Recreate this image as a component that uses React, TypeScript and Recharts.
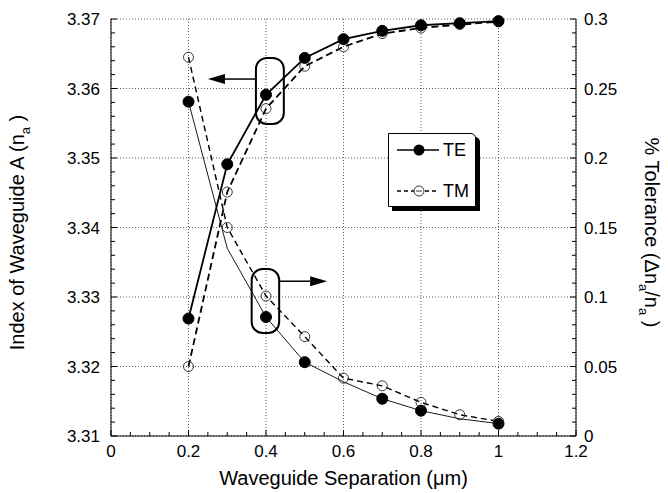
import React from "react";
import {
  ComposedChart,
  Line,
  XAxis,
  YAxis,
  CartesianGrid,
  ReferenceArea,
} from "recharts";

// waveguide separation (um)
const separation = [0.2, 0.3, 0.4, 0.5, 0.6, 0.7, 0.8, 0.9, 1.0];
// index of waveguide A, left axis
const teIndex = [3.3269, 3.3491, 3.3591, 3.3644, 3.3671, 3.3683, 3.3691, 3.3694, 3.3697];
const tmIndex = [3.32, 3.3451, 3.3571, 3.3632, 3.366, 3.3679, 3.3687, 3.3692, 3.3696];
// % tolerance, right axis
const teTolerance = [0.2405, 0.135, 0.0856, 0.0531, 0.039, 0.0268, 0.0182, 0.0124, 0.0089];
const teToleranceMarked = [true, false, true, true, false, true, true, false, true];
const tmTolerance = [0.2725, 0.15, 0.1007, 0.0715, 0.0416, 0.0361, 0.0242, 0.0153, 0.0105];

const xMajor = [0, 0.2, 0.4, 0.6, 0.8, 1.0, 1.2];
const leftMajor = [3.31, 3.32, 3.33, 3.34, 3.35, 3.36, 3.37];
const xMinor = Array.from({ length: 25 }, (_, i) => +(i * 0.05).toFixed(2));
const leftMinor = Array.from({ length: 31 }, (_, i) => +(3.31 + i * 0.002).toFixed(3));
const rightMinor = Array.from({ length: 31 }, (_, i) => +(i * 0.01).toFixed(2));

const data = separation.map((sep, i) => ({
  sep,
  teIndex: teIndex[i],
  tmIndex: tmIndex[i],
  teTol: teTolerance[i],
  teMark: teToleranceMarked[i],
  tmTol: tmTolerance[i],
}));

const FONT = '"Liberation Sans", Arial, Helvetica, sans-serif';
const TICK_FS = 17;
const TITLE_FS = 20;

const onStep = (v: number, step: number) => Math.abs(v / step - Math.round(v / step)) < 1e-6;

function BottomTick({ x, y, payload }: any) {
  const v = payload.value;
  const major = onStep(v, 0.2);
  return (
    <g>
      <line x1={x} x2={x} y1={y} y2={y - (major ? 6 : 4)} stroke="#000" strokeWidth={1} />
      {major && (
        <text x={x} y={y + 9} dy="0.72em" textAnchor="middle" fontSize={TICK_FS} fontFamily={FONT} fill="#000">
          {String(Math.round(v * 10) / 10)}
        </text>
      )}
    </g>
  );
}

function TopTick({ x, y, payload }: any) {
  const major = onStep(payload.value, 0.2);
  return <line x1={x} x2={x} y1={y} y2={y + (major ? 6 : 4)} stroke="#000" strokeWidth={1} />;
}

function LeftTick({ x, y, payload }: any) {
  const v = payload.value;
  const major = onStep(v - 3.31, 0.01);
  return (
    <g>
      <line x1={x} x2={x + (major ? 6 : 4)} y1={y} y2={y} stroke="#000" strokeWidth={1} />
      {major && (
        <text x={x - 11} y={y} dy="0.36em" textAnchor="end" fontSize={TICK_FS} fontFamily={FONT} fill="#000">
          {v.toFixed(2)}
        </text>
      )}
    </g>
  );
}

function RightTick({ x, y, payload }: any) {
  const v = payload.value;
  const major = onStep(v, 0.05);
  return (
    <g>
      <line x1={x} x2={x - (major ? 6 : 4)} y1={y} y2={y} stroke="#000" strokeWidth={1} />
      {major && (
        <text x={x + 8} y={y} dy="0.36em" textAnchor="start" fontSize={TICK_FS} fontFamily={FONT} fill="#000">
          {String(Math.round(v * 100) / 100)}
        </text>
      )}
    </g>
  );
}

const filledDot = (props: any) => {
  const { cx, cy, index } = props;
  return <circle key={`f-${index}`} cx={cx} cy={cy} r={5.5} fill="#000" stroke="#000" />;
};

const openDot = (props: any) => {
  const { cx, cy, index } = props;
  return <circle key={`o-${index}`} cx={cx} cy={cy} r={5} fill="none" stroke="#222" strokeWidth={0.9} />;
};

const markedDot = (props: any) => {
  const { cx, cy, index, payload } = props;
  if (!payload.teMark) return <g key={`m-${index}`} />;
  return <circle key={`m-${index}`} cx={cx} cy={cy} r={5.5} fill="#000" stroke="#000" />;
};

function Bubble(dir: "left" | "right", arrowAt: number) {
  return (props: any) => {
    const { x, y, width, height } = props;
    const ay = y + height * arrowAt;
    const sx = dir === "left" ? x : x + width;
    const tip = dir === "left" ? sx - 48 : sx + 48;
    const back = dir === "left" ? tip + 17 : tip - 17;
    return (
      <g>
        <rect x={x} y={y} width={width} height={height} rx={11} ry={11} fill="none" stroke="#000" strokeWidth={2} />
        <line x1={sx} x2={back} y1={ay} y2={ay} stroke="#000" strokeWidth={1.5} />
        <polygon points={`${tip},${ay} ${back},${ay - 5} ${back},${ay + 5}`} fill="#000" />
      </g>
    );
  };
}

function LeftTitle({ viewBox }: any) {
  const cx = viewBox.x + 24;
  const cy = viewBox.y + viewBox.height / 2 + 5;
  return (
    <text transform={`rotate(-90, ${cx}, ${cy})`} x={cx} y={cy} textAnchor="middle" fontSize={TITLE_FS} fontFamily={FONT} fill="#000">
      Index of Waveguide A (n<tspan dy="6" fontSize={13}>a</tspan><tspan dy="-6"> )</tspan>
    </text>
  );
}

function RightTitle({ viewBox }: any) {
  const cx = viewBox.x + 69;
  const cy = viewBox.y + viewBox.height / 2 + 5;
  return (
    <text transform={`rotate(90, ${cx}, ${cy})`} x={cx} y={cy} textAnchor="middle" fontSize={TITLE_FS} fontFamily={FONT} fill="#000">
      % Tolerance (Δn<tspan dy="6" fontSize={13}>a</tspan><tspan dy="-6">/n</tspan><tspan dy="6" fontSize={13}>a</tspan><tspan dy="-6"> )</tspan>
    </text>
  );
}

function BottomTitle({ viewBox }: any) {
  const cx = viewBox.x + viewBox.width / 2;
  return (
    <text x={cx} y={viewBox.y + 49} textAnchor="middle" fontSize={TITLE_FS} fontFamily={FONT} fill="#000">
      Waveguide Separation (μm)
    </text>
  );
}

function LegendBox() {
  return (
    <div
      style={{
        position: "absolute",
        left: 388,
        top: 133,
        width: 86,
        height: 72,
        border: "1.5px solid #000",
        borderTopRightRadius: 5,
        boxShadow: "4px 4px 0 #000",
        background: "#fff",
        fontFamily: FONT,
        fontSize: 17,
      }}
    >
      <svg width={86} height={72} style={{ position: "absolute", left: 0, top: 0 }}>
        <line x1={8} x2={50} y1={16} y2={16} stroke="#000" strokeWidth={1.5} />
        <circle cx={30} cy={16} r={5.5} fill="#000" />
        <text x={54} y={16} dy="0.36em" fontSize={18} fontFamily={FONT}>TE</text>
        <line x1={8} x2={50} y1={57} y2={57} stroke="#000" strokeWidth={1.3} strokeDasharray="4 3" />
        <circle cx={30} cy={57} r={5} fill="#fff" stroke="#222" strokeWidth={0.9} />
        <line x1={27} x2={33} y1={57} y2={57} stroke="#222" strokeWidth={0.9} />
        <text x={54} y={57} dy="0.36em" fontSize={18} fontFamily={FONT}>TM</text>
      </svg>
    </div>
  );
}

export default function App() {
  return (
    <div style={{ position: "absolute", left: 0, top: 0, width: 668, height: 493, background: "#fff" }}>
      <ComposedChart width={668} height={493} data={data} margin={{ top: 19, right: 0, bottom: 0, left: 0 }}>
        <CartesianGrid
          xAxisId="bottom"
          yAxisId="left"
          verticalValues={xMajor}
          horizontalValues={leftMajor}
          stroke="#333"
          strokeWidth={0.8}
          strokeDasharray="1 2"
        />
        <XAxis
          xAxisId="bottom"
          dataKey="sep"
          type="number"
          domain={[0, 1.2]}
          ticks={xMinor}
          interval={0}
          height={57}
          tickSize={0}
          tickMargin={0}
          tick={<BottomTick />}
          axisLine={{ stroke: "#000", strokeWidth: 1 }}
          label={{ content: <BottomTitle /> }}
        />
        <XAxis
          xAxisId="top"
          orientation="top"
          dataKey="sep"
          type="number"
          domain={[0, 1.2]}
          ticks={xMinor}
          interval={0}
          height={0}
          tickSize={0}
          tickMargin={0}
          tick={<TopTick />}
          axisLine={{ stroke: "#000", strokeWidth: 1 }}
        />
        <YAxis
          yAxisId="left"
          type="number"
          domain={[3.31, 3.37]}
          ticks={leftMinor}
          interval={0}
          width={111}
          tickSize={0}
          tickMargin={0}
          tick={<LeftTick />}
          axisLine={{ stroke: "#000", strokeWidth: 1 }}
          label={{ content: <LeftTitle /> }}
        />
        <YAxis
          yAxisId="right"
          orientation="right"
          type="number"
          domain={[0, 0.3]}
          ticks={rightMinor}
          interval={0}
          width={92}
          tickSize={0}
          tickMargin={0}
          tick={<RightTick />}
          axisLine={{ stroke: "#000", strokeWidth: 1 }}
          label={{ content: <RightTitle /> }}
        />
        <ReferenceArea
          xAxisId="bottom"
          yAxisId="left"
          x1={0.374}
          x2={0.446}
          y1={3.3549}
          y2={3.3644}
          shape={Bubble("left", 0.32)}
        />
        <ReferenceArea
          xAxisId="bottom"
          yAxisId="right"
          x1={0.363}
          x2={0.434}
          y1={0.0741}
          y2={0.1201}
          shape={Bubble("right", 0.19)}
        />
        <Line xAxisId="bottom" yAxisId="right" type="linear" dataKey="teTol" stroke="#000" strokeWidth={0.9} dot={markedDot} isAnimationActive={false} />
        <Line xAxisId="bottom" yAxisId="right" type="linear" dataKey="tmTol" stroke="#000" strokeWidth={1.4} strokeDasharray="6 4" dot={openDot} isAnimationActive={false} />
        <Line xAxisId="bottom" yAxisId="left" type="linear" dataKey="tmIndex" stroke="#000" strokeWidth={1.8} strokeDasharray="7 4" dot={openDot} isAnimationActive={false} />
        <Line xAxisId="bottom" yAxisId="left" type="linear" dataKey="teIndex" stroke="#000" strokeWidth={1.8} dot={filledDot} isAnimationActive={false} />
      </ComposedChart>
      <LegendBox />
    </div>
  );
}
